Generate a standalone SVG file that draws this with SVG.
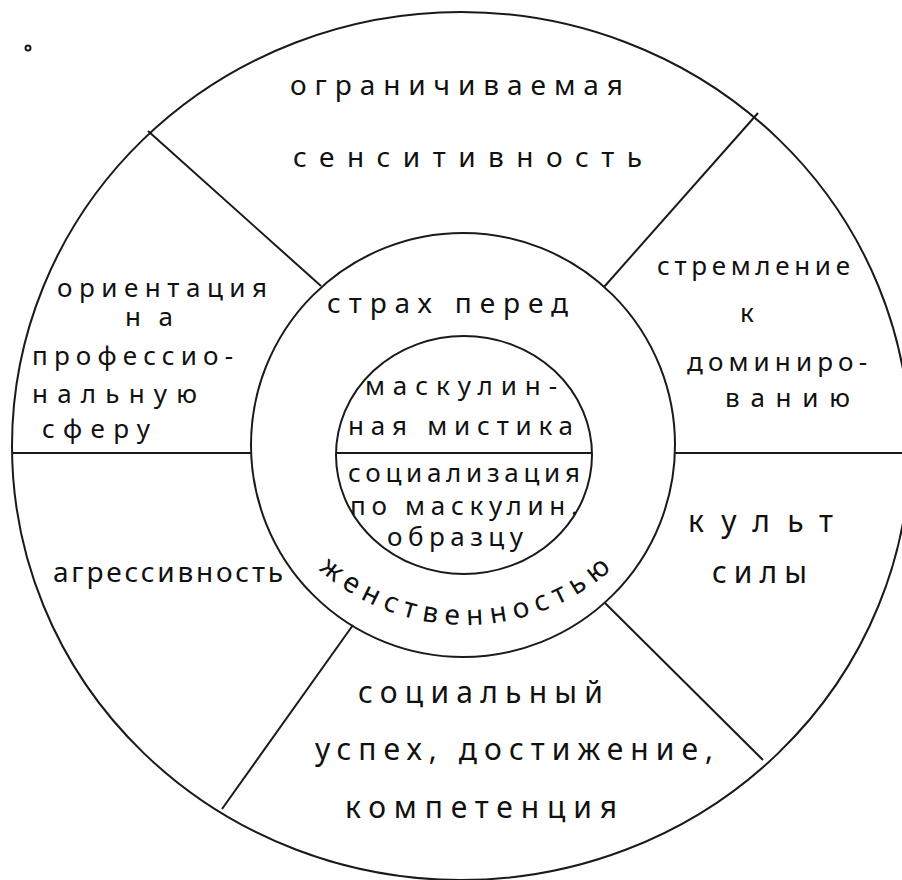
<svg xmlns="http://www.w3.org/2000/svg" width="902" height="880" viewBox="0 0 902 880">
<style>
.ln{fill:none;stroke:#1a1a1a;stroke-width:2}
.t{font-family:"Noto Sans","DejaVu Sans",sans-serif;font-size:28px;fill:#111}
.b{font-size:30px}
.s{font-size:26px}
</style>
<defs>
<path id="arcW" d="M 300 551 A 221 221 0 0 0 630 551"/>
</defs>
<rect width="902" height="880" fill="#fff"/>
<g id="rings">
<ellipse class="ln" cx="461" cy="446" rx="449" ry="434"/>
<circle class="ln" cx="463" cy="445" r="212"/>
<ellipse class="ln" cx="464" cy="455" rx="128" ry="119"/>
<circle cx="28" cy="48" r="2.5" fill="none" stroke="#1a1a1a" stroke-width="2"/>
</g>
<g id="connectors">
<line class="ln" x1="12" y1="453" x2="252" y2="453"/>
<line class="ln" x1="675" y1="453" x2="902" y2="453"/>
<line class="ln" x1="336" y1="453" x2="592" y2="453"/>
<line class="ln" x1="148" y1="131" x2="321" y2="286"/>
<line class="ln" x1="758" y1="113" x2="604" y2="287"/>
<line class="ln" x1="353" y1="625" x2="222" y2="809"/>
<line class="ln" x1="763" y1="760" x2="605" y2="603"/>
</g>
<g id="top">
<text class="t" x="290" y="95" textLength="333">ограничиваемая</text>
<text class="t" x="293" y="167" textLength="349">сенситивность</text>
</g>
<g id="left-upper">
<text class="t s" x="57" y="297" textLength="210">ориентация</text>
<text class="t s" x="125" y="326" textLength="48">на</text>
<text class="t s" x="32" y="365" textLength="201">профессио-</text>
<text class="t s" x="32" y="403" textLength="165">нальную</text>
<text class="t s" x="42" y="438" textLength="108">сферу</text>
</g>
<g id="left-lower">
<text class="t" x="53" y="582" textLength="230">агрессивность</text>
</g>
<g id="middle">
<text class="t" x="327" y="313" textLength="241">страх перед</text>
<text class="t" font-size="28"><textPath href="#arcW" startOffset="50%" text-anchor="middle" textLength="320">женственностью</textPath></text>
</g>
<g id="inner-top">
<text class="t s" x="365" y="395" textLength="192">маскулин-</text>
<text class="t s" x="348" y="435" textLength="225">ная мистика</text>
</g>
<g id="inner-bottom">
<text class="t s" x="348" y="482" textLength="232">социализация</text>
<text class="t s" x="350" y="515" textLength="228">по маскулин.</text>
<text class="t s" x="387" y="546" textLength="136">образцу</text>
</g>
<g id="right-upper">
<text class="t s" x="657" y="275" textLength="193">стремление</text>
<text class="t s" x="740" y="322">к</text>
<text class="t s" x="687" y="371" textLength="180">доминиро-</text>
<text class="t s" x="725" y="407" textLength="125">ванию</text>
</g>
<g id="right-lower">
<text class="t b" x="688" y="532" textLength="145">культ</text>
<text class="t b" x="712" y="583" textLength="95">силы</text>
</g>
<g id="bottom">
<text class="t b" x="358" y="703" textLength="245">социальный</text>
<text class="t b" x="315" y="760" textLength="398">успех, достижение,</text>
<text class="t b" x="345" y="818" textLength="272">компетенция</text>
</g>
</svg>
